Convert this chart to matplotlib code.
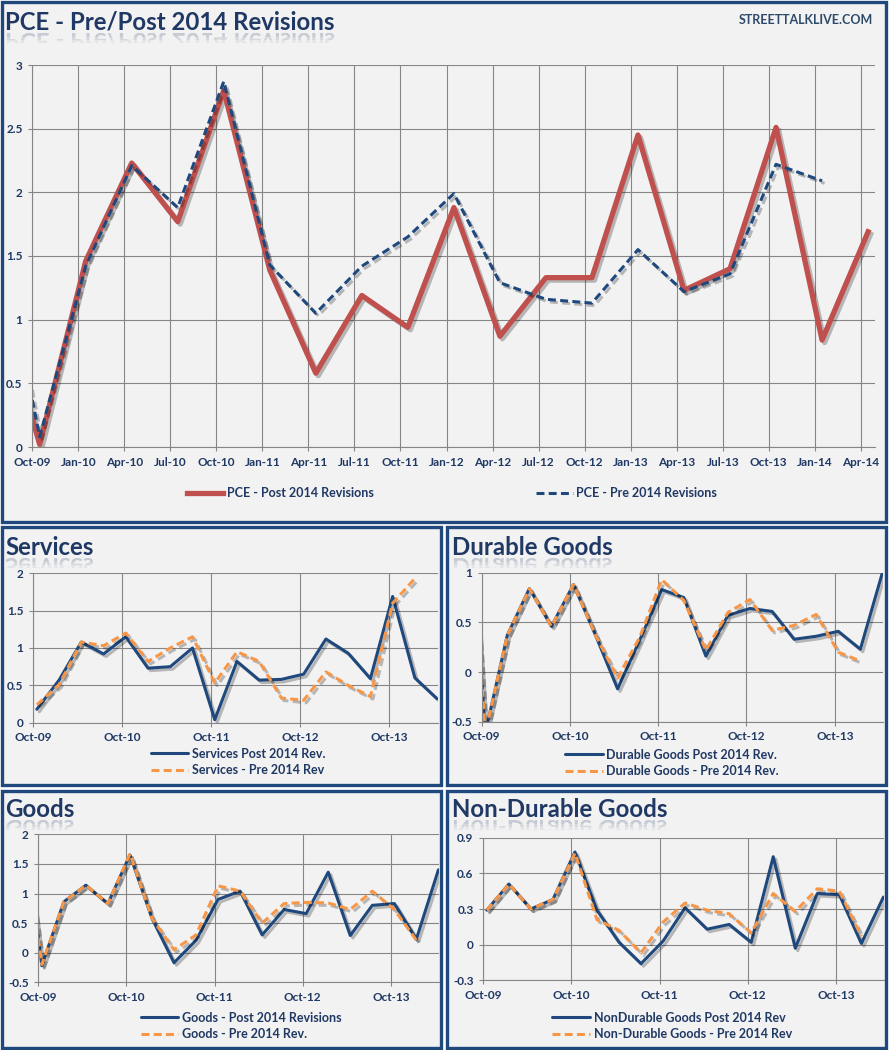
import numpy as np
import matplotlib
matplotlib.use("Agg")
import matplotlib.pyplot as plt
import matplotlib.patheffects as pe
from matplotlib.patches import Rectangle, PathPatch
from matplotlib.textpath import TextPath
from matplotlib.font_manager import FontProperties
from matplotlib.transforms import Affine2D, IdentityTransform

# quarterly data, first entry (Jul-09) sits left of the visible axis
quarters = ["Jul-09", "Oct-09", "Jan-10", "Apr-10", "Jul-10", "Oct-10", "Jan-11",
            "Apr-11", "Jul-11", "Oct-11", "Jan-12", "Apr-12", "Jul-12", "Oct-12",
            "Jan-13", "Apr-13", "Jul-13", "Oct-13", "Jan-14", "Apr-14"]
nan = np.nan

pce_post = [1.30, 0.02, 1.46, 2.23, 1.77, 2.80, 1.39, 0.58, 1.19, 0.94, 1.88,
            0.87, 1.33, 1.33, 2.45, 1.23, 1.40, 2.51, 0.84, 1.69]
pce_pre = [1.90, 0.08, 1.42, 2.21, 1.88, 2.87, 1.43, 1.05, 1.42, 1.65, 1.99,
           1.29, 1.16, 1.13, 1.55, 1.22, 1.36, 2.22, 2.09, nan]

services_post = [nan, 0.18, 0.57, 1.08, 0.92, 1.15, 0.73, 0.75, 1.00, 0.04, 0.82,
                 0.57, 0.58, 0.65, 1.12, 0.93, 0.59, 1.69, 0.60, 0.32]
services_pre = [nan, 0.24, 0.51, 1.08, 1.03, 1.20, 0.82, 1.00, 1.15, 0.53, 0.95,
                0.82, 0.33, 0.30, 0.68, 0.50, 0.35, 1.60, 1.93, nan]

durable_post = [2.90, -0.62, 0.37, 0.84, 0.46, 0.88, 0.37, -0.17, 0.32, 0.83, 0.75,
                0.16, 0.57, 0.64, 0.61, 0.33, 0.36, 0.41, 0.23, 1.00]
durable_pre = [2.90, -0.62, 0.37, 0.84, 0.46, 0.88, 0.37, -0.06, 0.35, 0.93, 0.72,
               0.22, 0.60, 0.73, 0.42, 0.47, 0.58, 0.20, 0.11, nan]

goods_post = [2.70, -0.22, 0.86, 1.14, 0.83, 1.65, 0.58, -0.17, 0.21, 0.90, 1.04,
              0.30, 0.73, 0.66, 1.36, 0.29, 0.80, 0.83, 0.23, 1.40]
goods_pre = [2.70, -0.20, 0.86, 1.14, 0.83, 1.67, 0.58, 0.05, 0.30, 1.13, 1.04,
             0.50, 0.83, 0.85, 0.84, 0.73, 1.04, 0.73, 0.21, nan]

nondur_post = [nan, 0.29, 0.51, 0.30, 0.38, 0.78, 0.29, 0.02, -0.16, 0.03, 0.31,
               0.13, 0.17, 0.02, 0.74, -0.03, 0.43, 0.42, 0.01, 0.40]
nondur_pre = [nan, 0.29, 0.51, 0.30, 0.38, 0.77, 0.21, 0.12, -0.07, 0.19, 0.35,
              0.29, 0.26, 0.10, 0.43, 0.28, 0.47, 0.45, 0.07, nan]

W, H = 891, 1050
NAVY = "#1F3864"
FRAME = "#1F497D"
RED = "#C0504D"
BLUE = "#1F497D"
ORANGE = "#F79646"
GRID = "#868686"
BG = "#F2F2F2"
FONT = ["Lato", "DejaVu Sans"]

plt.rcParams["font.family"] = FONT
plt.rcParams["font.weight"] = "bold"

fig = plt.figure(figsize=(W / 100, H / 100), dpi=100)
fig.patch.set_facecolor("white")

# x position of each quarter: data sits a bit after the tick
x = np.arange(len(quarters)) - 1 + 0.16


def frame(left, top, right, bottom):
    r = Rectangle((left / W, 1 - bottom / H), (right - left) / W, (bottom - top) / H,
                  transform=fig.transFigure, facecolor=BG, edgecolor=FRAME,
                  linewidth=2.4, zorder=-5)
    fig.add_artist(r)


def add_ax(left, top, right, bottom):
    ax = fig.add_axes([left / W, 1 - bottom / H, (right - left) / W, (bottom - top) / H])
    ax.set_facecolor("none")
    for s in ["top", "right"]:
        ax.spines[s].set_visible(False)
    for s in ["left", "bottom"]:
        ax.spines[s].set_color(GRID)
        ax.spines[s].set_linewidth(0.8)
    ax.grid(True, color=GRID, linewidth=0.8)
    ax.set_axisbelow(True)
    ax.tick_params(length=3, color=GRID, labelcolor=NAVY, labelsize=8.5, pad=4)
    return ax


def title(text, xp, base, size_px):
    fig.text(xp / W, 1 - base / H, text, fontsize=size_px * 0.72, color=NAVY,
             fontweight="bold", va="baseline", ha="left")
    # faded mirror image under the title
    fp = FontProperties(family=FONT, weight="bold", size=size_px * 0.72)
    tp = TextPath((0, 0), text, size=size_px, prop=fp)
    y0 = H - base - 3
    for depth, a in [(10, 0.07), (7, 0.07), (4, 0.08)]:
        p = PathPatch(tp, transform=Affine2D().scale(1, -1).translate(xp, y0) + IdentityTransform(),
                      facecolor=NAVY, edgecolor="none", alpha=a)
        clip = Rectangle((xp - 5, y0 - depth), 600, depth, transform=IdentityTransform())
        fig.add_artist(p)
        p.set_clip_path(clip)


shadow = [pe.SimpleLineShadow(offset=(1.8, -1.8), shadow_color="k", alpha=0.25), pe.Normal()]


def clean_legend(leg):
    # no drop shadow on the legend samples
    for ln in leg.get_lines():
        ln.set_path_effects([])


def small_panel(left, top, right, bottom, ylim, yticks, post, pre, lab_post, lab_pre, leg_xy):
    ax = add_ax(left, top, right, bottom)
    ax.plot(x, post, color=BLUE, lw=2.2, label=lab_post, path_effects=shadow,
            solid_joinstyle="round", solid_capstyle="round")
    ax.plot(x, pre, color=ORANGE, lw=2.2, dashes=(2.6, 1.4), label=lab_pre,
            path_effects=shadow, dash_joinstyle="round")
    ax.set_xlim(0, 18.2)
    ax.set_ylim(*ylim)
    ax.set_yticks(yticks)
    ax.set_yticklabels([f"{v:g}" for v in yticks])
    ax.set_xticks(range(0, 17, 4))
    ax.set_xticklabels(quarters[1:18:4])
    leg = ax.legend(loc="center", bbox_to_anchor=(leg_xy[0] / W, 1 - leg_xy[1] / H),
                    bbox_transform=fig.transFigure, frameon=False, ncol=1,
                    fontsize=9, labelcolor=NAVY, handlelength=3.0, handletextpad=0.3,
                    labelspacing=0.35, borderpad=0)
    clean_legend(leg)
    return ax


# frames
frame(2, 2, 886, 522)
frame(2, 527, 441, 785)
frame(447, 527, 886, 785)
frame(2, 791, 441, 1048)
frame(447, 791, 886, 1048)

# top chart
ax = add_ax(32.3, 65, 875, 447)
ax.plot(x, pce_post, color=RED, lw=3.8, label="PCE - Post 2014 Revisions",
        path_effects=shadow, solid_joinstyle="round")
ax.plot(x, pce_pre, color=BLUE, lw=2.2, dashes=(2.6, 1.4), label="PCE - Pre 2014 Revisions",
        path_effects=shadow)
ax.set_xlim(0, 18.31)
ax.set_ylim(0, 3)
yt = [0, 0.5, 1, 1.5, 2, 2.5, 3]
ax.set_yticks(yt)
ax.set_yticklabels([f"{v:g}" for v in yt])
ax.set_xticks(range(19))
ax.set_xticklabels(quarters[1:])
leg = ax.legend(loc="center", bbox_to_anchor=(452 / W, 1 - 493 / H), bbox_transform=fig.transFigure,
                frameon=False, ncol=2, fontsize=9, labelcolor=NAVY, handlelength=2.9,
                handletextpad=0.3, columnspacing=13, borderpad=0)
clean_legend(leg)

title("PCE - Pre/Post 2014 Revisions", 5, 30, 24)
fig.text(873 / W, 1 - 20 / H, "STREETTALKLIVE.COM", fontsize=9, color="#2E4A6B",
         fontweight="bold", ha="right", va="center")

small_panel(33.3, 573.3, 438, 722.7, (0, 2), [0, 0.5, 1, 1.5, 2],
            services_post, services_pre, "Services Post 2014 Rev.",
            "Services - Pre 2014 Rev", (238, 762))
title("Services", 5, 555, 24)

small_panel(481.7, 572.7, 883.3, 721.7, (-0.5, 1), [-0.5, 0, 0.5, 1],
            durable_post, durable_pre, "Durable Goods Post 2014 Rev.",
            "Durable Goods - Pre 2014 Rev.", (672, 763))
title("Durable Goods", 452, 555, 24)

small_panel(38.3, 834.3, 439.3, 982.3, (-0.5, 2), [-0.5, 0, 0.5, 1, 1.5, 2],
            goods_post, goods_pre, "Goods - Post 2014 Revisions",
            "Goods - Pre 2014 Rev.", (241, 1026))
title("Goods", 5, 817, 24)

small_panel(483.3, 837.7, 884.3, 980.3, (-0.3, 0.9), [-0.3, 0, 0.3, 0.6, 0.9],
            nondur_post, nondur_pre, "NonDurable Goods Post 2014 Rev",
            "Non-Durable Goods - Pre 2014 Rev", (672, 1026))
title("Non-Durable Goods", 452, 817, 24)

fig.savefig("out.png", dpi=100, facecolor=fig.get_facecolor())
